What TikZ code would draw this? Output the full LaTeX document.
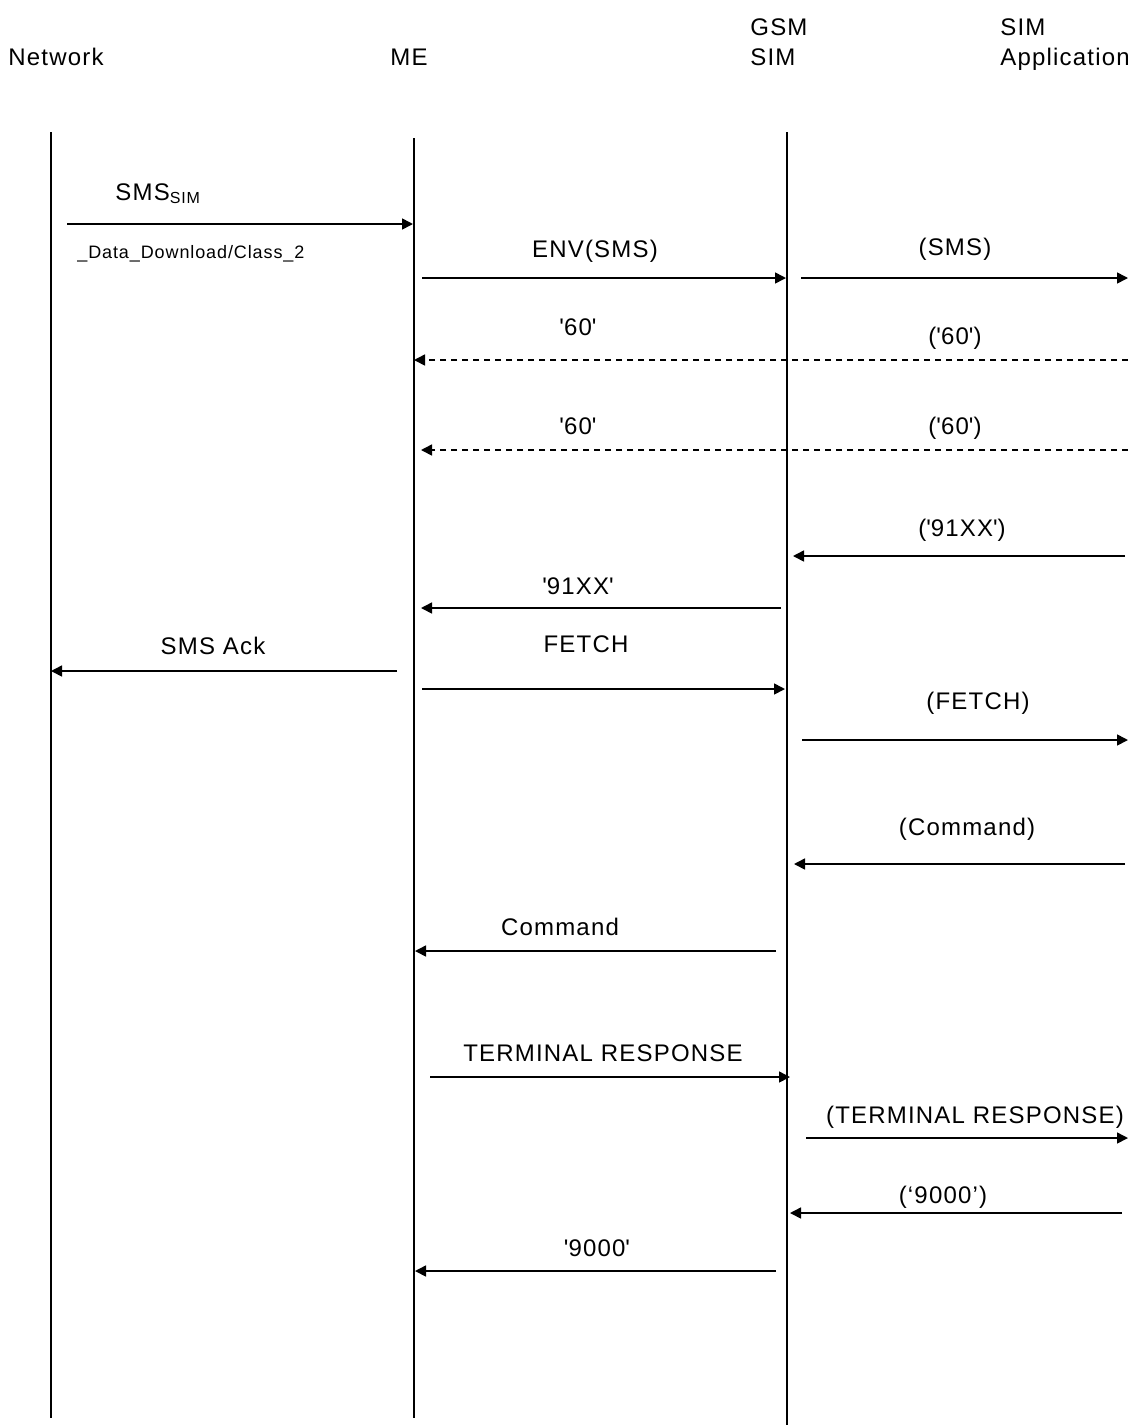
\documentclass[tikz,border=0pt]{standalone}
\usepackage{fontspec}
\setmainfont{Liberation Sans}[LetterSpace=5]
\usetikzlibrary{arrows.meta,positioning}
\newcommand{\sq}{\textquotesingle}

\begin{document}
\begin{tikzpicture}[
	x=0.5pt, y=-0.5pt,
	font=\fontsize{12}{14}\selectfont,
	lifeline/.style={line width=0.7pt},
	msg/.style={-{Triangle[length=5.5pt,width=5.5pt]}, line width=0.8pt},
	reply/.style={msg, dash pattern=on 3pt off 2.5pt},
	lbl/.style={inner sep=0pt, anchor=base},
	head/.style={inner sep=0pt, anchor=base west}
	]
	\useasboundingbox (0,0) rectangle (1128,1425);
	% headers
	\node[head] (net) at (8,65) {Network};
	\node[head] (me) at (390,65) {ME};
	\node[head] (gsm) at (750,35) {GSM};
	\node[head] (sim) at (750,65) {SIM};
	\node[head] (simapp) at (1000,35) {SIM};
	\node[head] (app) at (1000,65) {Application};
	% lifelines
	\coordinate (nettop) at (51,132);
	\coordinate (netbot) at (51,1418);
	\coordinate (metop) at (414,138);
	\coordinate (mebot) at (414,1418);
	\coordinate (simtop) at (787,132);
	\coordinate (simbot) at (787,1425);
	\draw[lifeline] (nettop) -- (netbot);
	\draw[lifeline] (metop) -- (mebot);
	\draw[lifeline] (simtop) -- (simbot);
	% SMS download
	\coordinate (sms1) at (67,224);
	\coordinate (sms2) at (413,224);
	\draw[msg] (sms1) -- (sms2);
	\node[lbl, anchor=base west] (smssim) at (115,200) {SMS\textsubscript{SIM}};
	\node[lbl, anchor=base west, font=\fontsize{9}{11}\selectfont] (dl) at (77,258) {\_Data\_Download/Class\_2};
	% ENV(SMS)
	\coordinate (env1) at (422,278);
	\coordinate (env2) at (786,278);
	\draw[msg] (env1) -- (env2);
	\node[lbl] (envl) at (595,257) {ENV(SMS)};
	\coordinate (app1) at (801,278);
	\coordinate (app2) at (1128,278);
	\draw[msg] (app1) -- (app2);
	\node[lbl] (appl) at (955,255) {(SMS)};
	% '60'
	\coordinate (sixa1) at (1128,360);
	\coordinate (sixa2) at (414,360);
	\draw[reply] (sixa1) -- (sixa2);
	\node[lbl] (sixal) at (578,335) {\sq60\sq};
	\node[lbl] (sixar) at (955,344) {(\sq60\sq)};
	\coordinate (sixb1) at (1128,450);
	\coordinate (sixb2) at (421,450);
	\draw[reply] (sixb1) -- (sixb2);
	\node[lbl] (sixbl) at (578,434) {\sq60\sq};
	\node[lbl] (sixbr) at (955,434) {(\sq60\sq)};
	% '91XX'
	\coordinate (nina1) at (1125,556);
	\coordinate (nina2) at (793,556);
	\draw[msg] (nina1) -- (nina2);
	\node[lbl] (ninal) at (962,536) {(\sq91XX\sq)};
	\coordinate (ninb1) at (781,608);
	\coordinate (ninb2) at (421,608);
	\draw[msg] (ninb1) -- (ninb2);
	\node[lbl] (ninbl) at (578,594) {\sq91XX\sq};
	% SMS Ack
	\coordinate (ack1) at (397,671);
	\coordinate (ack2) at (51,671);
	\draw[msg] (ack1) -- (ack2);
	\node[lbl] (ackl) at (213,654) {SMS Ack};
	% FETCH
	\coordinate (fet1) at (422,689);
	\coordinate (fet2) at (785,689);
	\draw[msg] (fet1) -- (fet2);
	\node[lbl] (fetl) at (586,652) {FETCH};
	\coordinate (afet1) at (802,740);
	\coordinate (afet2) at (1128,740);
	\draw[msg] (afet1) -- (afet2);
	\node[lbl] (afetl) at (978,709) {(FETCH)};
	% Command
	\coordinate (acmd1) at (1125,864);
	\coordinate (acmd2) at (794,864);
	\draw[msg] (acmd1) -- (acmd2);
	\node[lbl] (acmdl) at (967,835) {(Command)};
	\coordinate (cmd1) at (776,951);
	\coordinate (cmd2) at (415,951);
	\draw[msg] (cmd1) -- (cmd2);
	\node[lbl] (cmdl) at (560,935) {Command};
	% TERMINAL RESPONSE
	\coordinate (tr1) at (430,1077);
	\coordinate (tr2) at (790,1077);
	\draw[msg] (tr1) -- (tr2);
	\node[lbl] (trl) at (603,1061) {TERMINAL RESPONSE};
	\coordinate (atr1) at (806,1138);
	\coordinate (atr2) at (1128,1138);
	\draw[msg] (atr1) -- (atr2);
	\node[lbl] (atrl) at (975,1123) {(TERMINAL RESPONSE)};
	% '9000'
	\coordinate (anok1) at (1122,1213);
	\coordinate (anok2) at (790,1213);
	\draw[msg] (anok1) -- (anok2);
	\node[lbl] (anokl) at (943,1203) {(‘9000’)};
	\coordinate (ok1) at (776,1271);
	\coordinate (ok2) at (415,1271);
	\draw[msg] (ok1) -- (ok2);
	\node[lbl] (okl) at (597,1256) {\sq9000\sq};
\end{tikzpicture}
\end{document}
